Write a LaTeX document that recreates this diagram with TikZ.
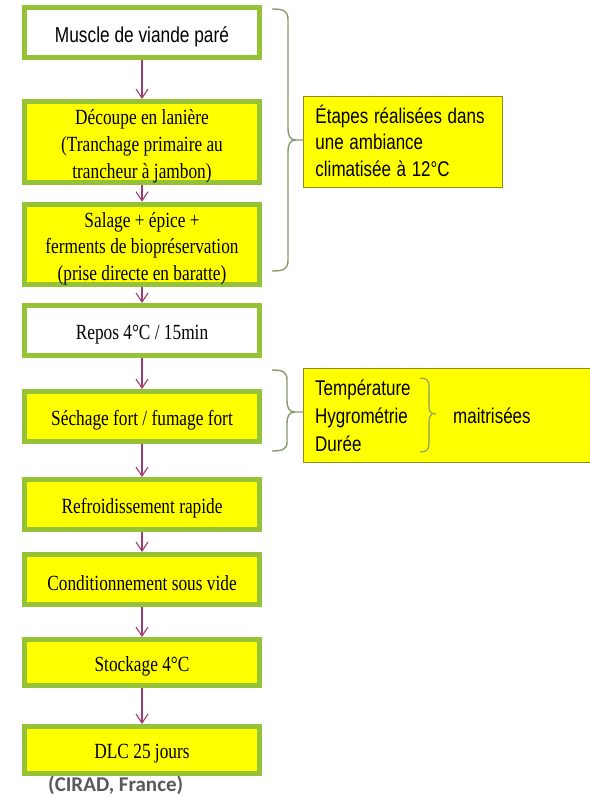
\documentclass[tikz,border=0pt]{standalone}
\usepackage{fontspec}
\setmainfont{Liberation Serif}
\newfontfamily\arialf{Liberation Sans}
\newfontfamily\capf{Carlito}
\usetikzlibrary{arrows.meta}
\definecolor{boxgreen}{RGB}{150,194,55}
\definecolor{arrowc}{RGB}{160,60,110}
\definecolor{bracec}{RGB}{135,155,105}
\definecolor{sideborder}{RGB}{140,140,30}
\definecolor{capgray}{RGB}{89,89,89}
\definecolor{pureyellow}{RGB}{255,255,0}
\newcommand{\vs}[1]{\raisebox{-4pt}[\height][\depth]{\scalebox{1}[1.25]{\begin{tabular}{@{}c@{}}#1\end{tabular}}}}
\newcommand{\vl}[1]{\raisebox{-4pt}[\height][\depth]{\scalebox{1}[1.25]{#1}}}
\newcommand{\vsl}[1]{\raisebox{-3pt}[\height][\depth]{\scalebox{1}[1.25]{\begin{tabular}{@{}l@{}}#1\end{tabular}}}}
\newcommand{\vt}[1]{\raisebox{-2pt}[\height][\depth]{\scalebox{1}[1.25]{#1}}}
\begin{document}
\begin{tikzpicture}[x=1pt,y=-1pt,
  stepbox/.style={draw=boxgreen, line width=5pt, minimum width=235pt, inner sep=0pt,
    font=\fontsize{17.3}{21.5}\selectfont},
  yel/.style={fill=pureyellow},
  sidebox/.style={draw=sideborder, line width=0.9pt, fill=pureyellow, inner sep=0pt,
    font=\arialf\fontsize{17}{21}\selectfont},
  sidetxt/.style={inner sep=0pt, font=\arialf\fontsize{17}{21}\selectfont},
  arr/.style={draw=arrowc, line width=1.1pt, -{Straight Barb[length=9pt,width=12pt,line width=1.1pt]}},
  bracestyle/.style={draw=bracec, line width=1.4pt},
]
\useasboundingbox (0,0) rectangle (589,797);

% main steps
\node[stepbox, fill=white, minimum height=50pt] (n1) at (142,32.5) {\vl{\arialf Muscle de viande paré}};
\node[stepbox, yel, minimum height=81pt] (n2) at (142,142) {\vs{Découpe en lanière\\(Tranchage primaire au\\trancheur à jambon)}};
\node[stepbox, yel, minimum height=76pt] (n3) at (142,244.5) {\vs{Salage + épice +\\ferments de biopréservation\\(prise directe en baratte)}};
\node[stepbox, fill=white, minimum height=50pt] (n4) at (142,330.5) {\vl{Repos 4°C / 15min}};
\node[stepbox, yel, minimum height=50pt] (n5) at (142,416.5) {\vl{Séchage fort / fumage fort}};
\node[stepbox, yel, minimum height=50pt] (n6) at (142,504.5) {\vl{Refroidissement rapide}};
\node[stepbox, yel, minimum height=50pt] (n7) at (142,579.5) {\vl{Conditionnement sous vide}};
\node[stepbox, yel, minimum height=46pt] (n8) at (142,662.5) {\vl{Stockage 4°C}};
\node[stepbox, yel, minimum height=47pt] (n9) at (142,750) {\vl{DLC 25 jours}};

\foreach \a/\b in {n1/n2,n2/n3,n3/n4,n4/n5,n5/n6,n6/n7,n7/n8,n8/n9}
  \draw[arr] (\a) -- (\b);

% side box 1
\node[sidebox, anchor=west, minimum height=91pt, text width=175pt, inner xsep=12pt, align=left] (s1) at (303,141.5)
  {\vsl{Étapes réalisées dans\\une ambiance\\climatisée à 12°C}};
\draw[bracestyle] (272,9) .. controls (284,9) and (288,11) .. (288,20) -- (288,128)
  .. controls (288,136) and (290,140) .. (296,140) -- (s1.west |- 0,140);
\draw[bracestyle] (296,140) .. controls (290,140) and (288,144) .. (288,152) -- (288,260)
  .. controls (288,269) and (284,271) .. (272,271);

% side box 2
\node[sidebox, anchor=west, minimum height=94pt, minimum width=300pt] (s2) at (303,415) {};
\node[sidetxt, anchor=west] (t1) at (315,388) {\vt{Température}};
\node[sidetxt, anchor=west] (t2) at (315,416) {\vt{Hygrométrie}};
\node[sidetxt, anchor=west] (t3) at (315,442) {\vt{Durée}};
\node[sidetxt, anchor=west] (t4) at (453,414) {\vt{maitrisées}};
\draw[bracestyle] (272,370) .. controls (283,370) and (287,372) .. (287,380) -- (287,400)
  .. controls (287,408) and (289,412) .. (295,412) -- (s2.west |- 0,412);
\draw[bracestyle] (295,412) .. controls (289,412) and (287,416) .. (287,424) -- (287,442)
  .. controls (287,449) and (283,451) .. (272,451);
\draw[bracestyle, line width=1.1pt] (420,378) .. controls (426,378) and (429,380) .. (429,386) -- (429,406)
  .. controls (429,411) and (430,414) .. (436,414);
\draw[bracestyle, line width=1.1pt] (432,414) .. controls (430,415) and (429,418) .. (429,422) -- (429,444)
  .. controls (429,450) and (426,452) .. (420,452);

% caption
\node[inner sep=0pt, anchor=west, text=capgray, font=\capf\bfseries\fontsize{21}{24}\selectfont] (cap) at (48,785) {(CIRAD, France)};
\end{tikzpicture}
\end{document}
